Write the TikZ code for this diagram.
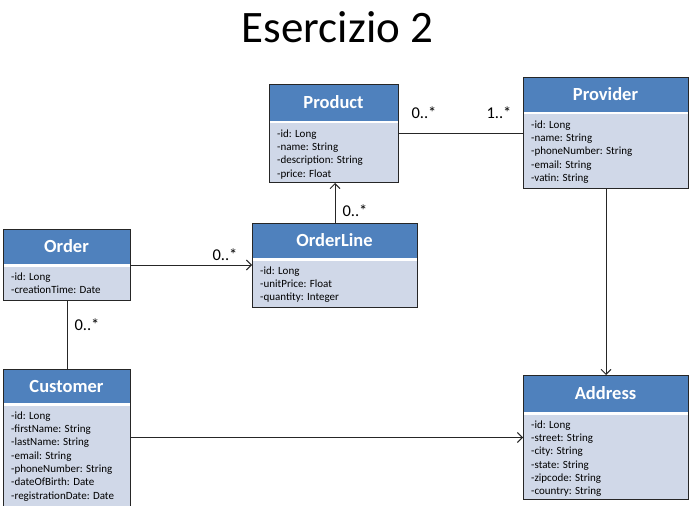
\documentclass[tikz,border=0pt]{standalone}
\usepackage{fontspec}
\setmainfont{Carlito}
\usetikzlibrary{arrows.meta,calc}
\definecolor{headblue}{HTML}{4F81BD}
\definecolor{bodyblue}{HTML}{D0D8E8}
\tikzset{
  classbox/.style={draw=black!85, line width=1pt, inner sep=0pt, fill=none},
  headtext/.style={text=white, font=\fontsize{18.5}{22}\selectfont\bfseries, inner sep=0pt},
  attrs/.style={align=left, inner sep=0pt, font=\fontsize{11}{13.3}\selectfont},
  mult/.style={font=\fontsize{16.5}{19}\selectfont, inner sep=0pt},
  assoc/.style={draw=black!85, line width=0.9pt},
  nav/.style={assoc, -{Straight Barb[length=5pt,width=10pt]}}
}
% #1 name, #2 x, #3 y, #4 width, #5 header height, #6 total height, #7 title, #8 attributes
\newcommand\umlclass[8]{%
  \fill[bodyblue] (#2,#3) rectangle ++(#4,#6);
  \fill[headblue] (#2,#3) rectangle ++(#4,#5);
  \fill[white] (#2,#3+#5) rectangle ++(#4,2.5);
  \node[classbox, minimum width=#4pt, minimum height=#6pt, anchor=north west] (#1) at (#2,#3) {};
  \node[headtext] (#1-title) at (#2+#4/2,#3+#5/2) {#7};
  \node[attrs, anchor=north west] (#1-attrs) at (#2+8,#3+#5+8.5) {#8};
}
\begin{document}
\begin{tikzpicture}[x=1pt,y=-1pt]
\clip (0,0) rectangle (692,505);
\fill[white] (0,0) rectangle (692,505);
\node[font=\fontsize{45}{52}\selectfont, anchor=base, inner sep=0pt] (title) at (337.5,43) {Esercizio 2};

\umlclass{product}{269}{84}{129}{37}{98}{Product}{-id: Long\\-name: String\\-description: String\\-price: Float}
\umlclass{provider}{523}{77}{165}{35}{111}{Provider}{-id: Long\\-name: String\\-phoneNumber: String\\-email: String\\-vatin: String}
\umlclass{order}{3}{229}{127}{35}{71}{Order}{-id: Long\\-creationTime: Date}
\umlclass{orderline}{252}{223}{165}{35}{84}{OrderLine}{-id: Long\\-unitPrice: Float\\-quantity: Integer}
\umlclass{customer}{3}{369}{127}{34}{142}{Customer}{-id: Long\\-firstName: String\\-lastName: String\\-email: String\\-phoneNumber: String\\-dateOfBirth: Date\\-registrationDate: Date}
\umlclass{address}{523}{375}{165}{37}{124}{Address}{-id: Long\\-street: String\\-city: String\\-state: String\\-zipcode: String\\-country: String}

\draw[assoc] (product.east) -- (product.east -| provider.west);
\draw[nav] (orderline.north) -- (orderline.north |- product.south);
\draw[nav] (order.east) -- (order.east -| orderline.west);
\draw[assoc] (order.south) -- (customer.north);
\draw[nav] (provider.south) -- (address.north);
\draw[nav] (address.west -| customer.east) -- (address.west);

\node[mult] (m1) at (424,113) {0..*};
\node[mult] (m2) at (499,113) {1..*};
\node[mult] (m3) at (355,211) {0..*};
\node[mult] (m4) at (225,255) {0..*};
\node[mult] (m5) at (87,325) {0..*};
\end{tikzpicture}
\end{document}
